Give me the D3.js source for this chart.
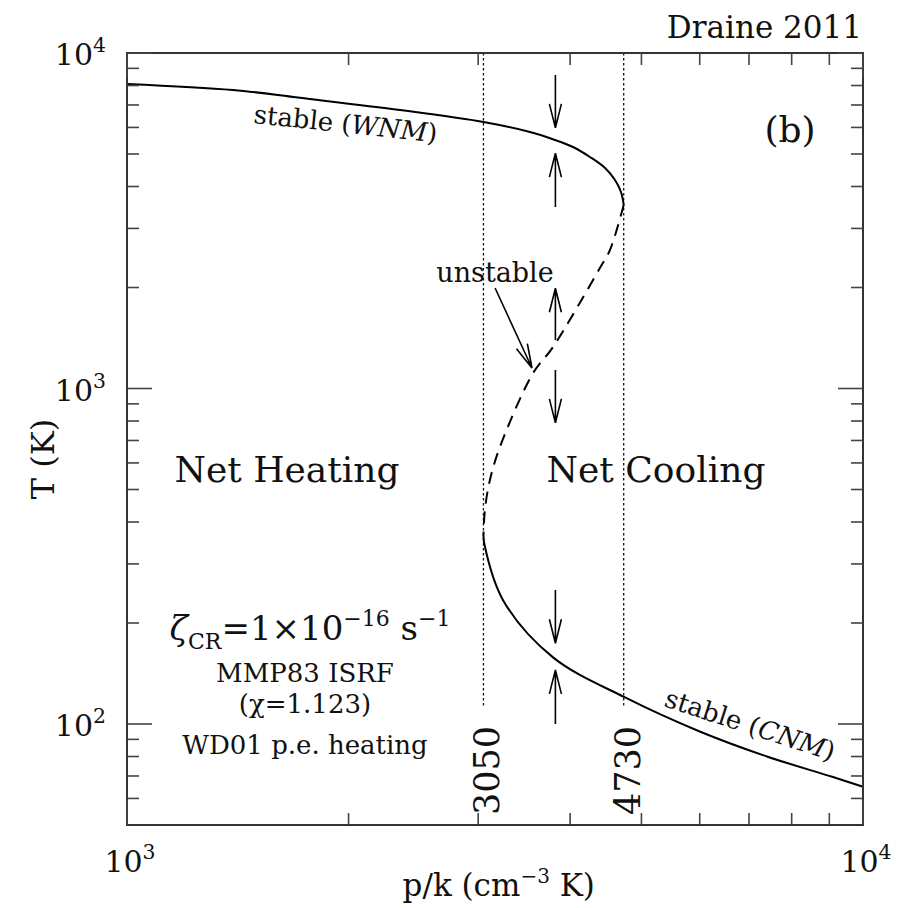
<!DOCTYPE html>
<html>
<head>
<meta charset="utf-8">
<script src="https://cdn.jsdelivr.net/npm/d3@7"></script>
<style>
  body { margin: 0; background: #fff; }
  text { font-family: "DejaVu Serif", serif; fill: #111; }
</style>
</head>
<body>
<svg id="chart" width="917" height="908"></svg>
<script>
// warm stable branch (WNM), solid
const wnmP = [1000, 1393, 1718, 2350, 3050, 3528, 3815, 4036, 4256, 4462, 4603, 4690, 4730]
const wnmT = [8090, 7760, 7350, 6760, 6225, 5813, 5505, 5246, 4898, 4542, 4183, 3852, 3525]

// unstable branch, dashed
const unstableP = [4730, 4532, 4392, 3792, 3561, 3212, 3112, 3064, 3050]
const unstableT = [3525, 2590, 2290, 1330, 1110, 670, 533, 435, 366]

// cold stable branch (CNM), solid
const cnmP = [3050, 3060, 3243, 3792, 4750, 6000, 7405, 9105, 10000]
const cnmT = [366, 342, 234, 158, 120, 95, 80, 69.5, 65]

// pressure limits of the two-phase region
const criticalP = [3050, 4730]
const criticalLabels = ["3050", "4730"]
const criticalTmin = 112

// heating / cooling arrows at one pressure
const arrowP = 3820
const arrowFrom = [8600, 3475, 1395, 1135, 251, 100]
const arrowTo = [5980, 5030, 1990, 790, 174, 145]

// pointer to the unstable branch
const pointerP = [3163, 3550]
const pointerT = [1993, 1151]

const xMajor = [1000, 10000]
const xMinor = [2000, 3000, 4000, 5000, 6000, 7000, 8000, 9000]
const yMajor = [100, 1000, 10000]
const yMinor = [60, 70, 80, 90, 200, 300, 400, 500, 600, 700, 800, 900,
                2000, 3000, 4000, 5000, 6000, 7000, 8000, 9000]
const yTickLabels = [["10", "2", 100], ["10", "3", 1000], ["10", "4", 10000]]
const xTickLabels = [["10", "3", 1000], ["10", "4", 10000]]

const svg = d3.select("#chart")

/**
 * Plot area and scales
 */
const box = { left: 127, right: 863, top: 53, bottom: 825 }

const x = d3.scaleLog().domain([1e3, 1e4]).range([box.left, box.right])
const y = d3.scaleLog().domain([50, 1e4]).range([box.bottom, box.top])

const zip = (ps, ts) => ps.map((p, i) => ({ p: p, t: ts[i] }))

const line = d3.line()
    .x(d => x(d.p))
    .y(d => y(d.t))
    .curve(d3.curveCatmullRom.alpha(0.5))

/**
 * Dotted vertical lines at the critical pressures
 */
svg.selectAll(".crit")
    .data(criticalP)
    .enter()
    .append("line")
    .attr("class", "crit")
    .attr("x1", d => x(d)).attr("x2", d => x(d))
    .attr("y1", y(1e4)).attr("y2", y(criticalTmin))
    .attr("stroke", "#111")
    .attr("stroke-width", 1.3)
    .attr("stroke-dasharray", "2.5,2.5")

svg.selectAll(".crit_label")
    .data(criticalP)
    .enter()
    .append("text")
    .attr("class", "crit_label")
    .attr("transform", d => "translate(" + (x(d) + 16) + "," + 815 + ") rotate(-90)")
    .attr("font-size", 35)
    .text((d, i) => criticalLabels[i])

/**
 * Equilibrium curve
 */
svg.append("path")
    .datum(zip(wnmP, wnmT))
    .attr("d", line)
    .attr("fill", "none")
    .attr("stroke", "#000")
    .attr("stroke-width", 2)

svg.append("path")
    .datum(zip(unstableP, unstableT))
    .attr("d", line)
    .attr("fill", "none")
    .attr("stroke", "#000")
    .attr("stroke-width", 2)
    .attr("stroke-dasharray", "12,8")

svg.append("path")
    .datum(zip(cnmP, cnmT))
    .attr("d", line)
    .attr("fill", "none")
    .attr("stroke", "#000")
    .attr("stroke-width", 2)

/**
 * Arrows: open V heads
 */
function arrow(x1, y1, x2, y2) {
    const a = Math.atan2(y2 - y1, x2 - x1)
    const len = 24, half = 6
    const bx = x2 - len * Math.cos(a), by = y2 - len * Math.sin(a)
    const nx = -Math.sin(a) * half, ny = Math.cos(a) * half
    return "M" + x1 + "," + y1 + "L" + x2 + "," + y2 +
        "M" + (bx + nx) + "," + (by + ny) + "L" + x2 + "," + y2 +
        "L" + (bx - nx) + "," + (by - ny)
}

svg.selectAll(".arrow")
    .data(arrowFrom)
    .enter()
    .append("path")
    .attr("class", "arrow")
    .attr("d", (d, i) => arrow(x(arrowP), y(d), x(arrowP), y(arrowTo[i])))
    .attr("fill", "none")
    .attr("stroke", "#000")
    .attr("stroke-width", 1.6)

svg.append("path")
    .attr("d", arrow(x(pointerP[0]), y(pointerT[0]), x(pointerP[1]), y(pointerT[1])))
    .attr("fill", "none")
    .attr("stroke", "#000")
    .attr("stroke-width", 1.6)

/**
 * Frame and ticks on all four sides
 */
svg.append("rect")
    .attr("x", box.left).attr("y", box.top)
    .attr("width", box.right - box.left).attr("height", box.bottom - box.top)
    .attr("fill", "none")
    .attr("stroke", "#333")
    .attr("stroke-width", 2)

const ticks = []
xMajor.forEach(v => ticks.push({ axis: "x", v: v, len: 25 }))
xMinor.forEach(v => ticks.push({ axis: "x", v: v, len: 12 }))
yMajor.forEach(v => ticks.push({ axis: "y", v: v, len: 25 }))
yMinor.forEach(v => ticks.push({ axis: "y", v: v, len: 12 }))

const g_ticks = svg.append("g").attr("stroke", "#444").attr("stroke-width", 1.6)
ticks.forEach(t => {
    if (t.axis === "x") {
        const px = x(t.v)
        g_ticks.append("line").attr("x1", px).attr("x2", px)
            .attr("y1", box.bottom).attr("y2", box.bottom - t.len)
        g_ticks.append("line").attr("x1", px).attr("x2", px)
            .attr("y1", box.top).attr("y2", box.top + t.len)
    } else {
        const py = y(t.v)
        g_ticks.append("line").attr("y1", py).attr("y2", py)
            .attr("x1", box.left).attr("x2", box.left + t.len)
        g_ticks.append("line").attr("y1", py).attr("y2", py)
            .attr("x1", box.right).attr("x2", box.right - t.len)
    }
})

/**
 * Tick labels (powers of ten)
 */
function power(sel, base, exp, size) {
    sel.append("tspan").attr("font-size", size).text(base)
    sel.append("tspan").attr("font-size", size * 0.68).attr("dy", -size * 0.42).text(exp)
}

yTickLabels.forEach(d => {
    const t = svg.append("text")
        .attr("x", 106).attr("y", y(d[2]) + 12)
        .attr("text-anchor", "end")
    power(t, d[0], d[1], 30)
})

xTickLabels.forEach(d => {
    const t = svg.append("text")
        .attr("x", x(d[2]) + 3).attr("y", 872)
        .attr("text-anchor", "middle")
    power(t, d[0], d[1], 30)
})

/**
 * Axis labels
 */
const xl = svg.append("text")
    .attr("x", x(3200)).attr("y", 896)
    .attr("text-anchor", "middle")
    .attr("font-size", 31)
xl.append("tspan").text("p/k (cm")
xl.append("tspan").attr("font-size", 20).attr("dy", -13).text("\u22123")
xl.append("tspan").attr("dy", 13).text(" K)")

svg.append("text")
    .attr("transform", "translate(54,459) rotate(-90)")
    .attr("text-anchor", "middle")
    .attr("font-size", 32)
    .text("T (K)")

/**
 * Annotations
 */
svg.append("text")
    .attr("x", 862).attr("y", 38)
    .attr("text-anchor", "end")
    .attr("font-size", 31)
    .text("Draine 2011")

svg.append("text")
    .attr("x", 790).attr("y", 142)
    .attr("text-anchor", "middle")
    .attr("font-size", 36)
    .text("(b)")

svg.append("text")
    .attr("x", 287).attr("y", 482)
    .attr("text-anchor", "middle")
    .attr("font-size", 36)
    .text("Net Heating")

svg.append("text")
    .attr("x", 656).attr("y", 482)
    .attr("text-anchor", "middle")
    .attr("font-size", 36)
    .text("Net Cooling")

svg.append("text")
    .attr("x", 495).attr("y", 282)
    .attr("text-anchor", "middle")
    .attr("font-size", 27)
    .text("unstable")

const wnm = svg.append("text")
    .attr("transform", "translate(253,123) rotate(6)")
    .attr("font-size", 26)
wnm.append("tspan").text("stable (")
wnm.append("tspan").attr("font-style", "italic").text("WNM")
wnm.append("tspan").text(")")

const cnm = svg.append("text")
    .attr("transform", "translate(663,706) rotate(18)")
    .attr("font-size", 26)
cnm.append("tspan").text("stable (")
cnm.append("tspan").attr("font-style", "italic").text("CNM")
cnm.append("tspan").text(")")

const zeta = svg.append("text")
    .attr("x", 310).attr("y", 640)
    .attr("text-anchor", "middle")
    .attr("font-size", 34)
zeta.append("tspan").attr("font-style", "italic").text("\u03b6")
zeta.append("tspan").attr("font-size", 22).attr("dy", 9).text("CR")
zeta.append("tspan").attr("dy", -9).text("=1\u00d710")
zeta.append("tspan").attr("font-size", 22).attr("dy", -14).text("\u221216")
zeta.append("tspan").attr("dy", 14).text(" s")
zeta.append("tspan").attr("font-size", 22).attr("dy", -14).text("\u22121")

const infoLines = [["MMP83 ISRF", 682], ["(\u03c7=1.123)", 713], ["WD01 p.e. heating", 754]]
svg.selectAll(".info")
    .data(infoLines)
    .enter()
    .append("text")
    .attr("class", "info")
    .attr("x", 305).attr("y", d => d[1])
    .attr("text-anchor", "middle")
    .attr("font-size", 26)
    .text(d => d[0])
</script>
</body>
</html>
